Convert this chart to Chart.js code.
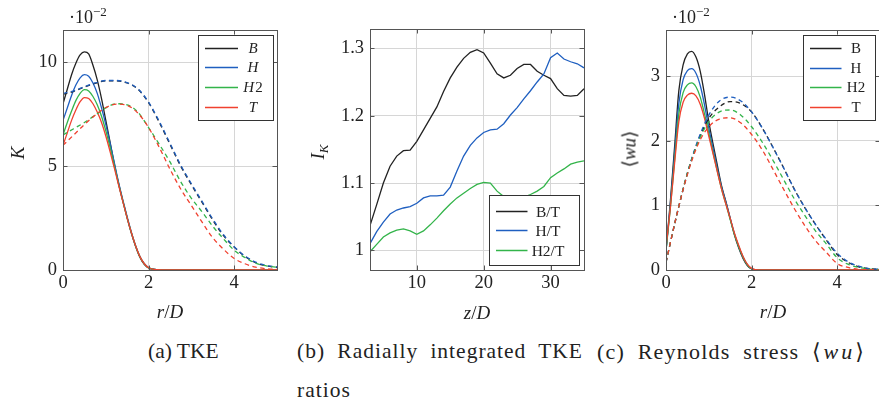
<!DOCTYPE html>
<html lang="en">
<head>
<meta charset="UTF-8">
<title>TKE, integrated TKE ratios and Reynolds stress</title>
<script src="https://cdn.jsdelivr.net/npm/chart.js"></script>
<style>
  body {
    margin: 0;
    background: #fff;
    width: 879px;
    height: 403px;
    overflow: hidden;
    position: relative;
    font-family: 'Liberation Serif', 'DejaVu Serif', serif;
    color: #222;
  }
  canvas { position: absolute; top: 0; }
  .lbl { position: absolute; white-space: nowrap; font-size: 19px; line-height: 1; }
  .ytitle { transform: translate(-50%, -50%) rotate(-90deg); }
  .xtitle { transform: translate(-50%, -50%); }
  .exp { position: absolute; font-size: 18px; line-height: 1; white-space: nowrap; }
  .exp sup { font-size: 13px; vertical-align: 7px; line-height: 0; }
  .cap { position: absolute; font-size: 21.5px; line-height: 1; white-space: nowrap; transform: translateY(-50%); }
  .just { text-align: justify; text-align-last: justify; white-space: normal; letter-spacing: 1px; }
  .wu { letter-spacing: 3px; }
</style>
</head>
<body>

<canvas id="chartA" width="290" height="330" style="left:0"></canvas>
<canvas id="chartB" width="300" height="330" style="left:290px"></canvas>
<canvas id="chartC" width="290" height="330" style="left:590px"></canvas>

<!-- axis titles -->
<div class="lbl ytitle" style="left:17px; top:153px"><i>K</i></div>
<div class="lbl ytitle" style="left:319px; top:152px"><i>I</i><sub style="font-size:13px"><i>K</i></sub></div>
<div class="lbl ytitle" style="left:629px; top:149px">⟨<i>wu</i>⟩</div>

<div class="lbl xtitle" style="left:170px; top:311px"><i>r</i>/<i>D</i></div>
<div class="lbl xtitle" style="left:477px; top:312px"><i>z</i>/<i>D</i></div>
<div class="lbl xtitle" style="left:773px; top:311px"><i>r</i>/<i>D</i></div>

<div class="exp" style="left:69px; top:8px">·10<sup>−2</sup></div>
<div class="exp" style="left:672px; top:8px">·10<sup>−2</sup></div>

<!-- captions -->
<div class="cap" style="left:148px; top:352px">(a) TKE</div>
<div class="cap just" style="left:297px; top:352px; width:286px">(b) Radially integrated TKE</div>
<div class="cap" style="left:297px; top:391px; letter-spacing:1px">ratios</div>
<div class="cap" style="left:597px; top:352px; font-size:22px; letter-spacing:1.2px; word-spacing:6px">(c) Reynolds stress <span class="wu">⟨<i>wu</i>⟩</span></div>

<script>
  // ---- data ----
  const seriesNames = ['B', 'H', 'H2', 'T'];
  const ratioNames = ['B/T', 'H/T', 'H2/T'];
  const colors = ['#222222', '#1f5fc0', '#33b44a', '#f0412f'];

  // radial positions r/D
  const rSolid = [0, 0.1, 0.2, 0.3, 0.4, 0.5, 0.6, 0.7, 0.8, 0.9, 1.0, 1.1, 1.2, 1.3, 1.4, 1.5, 1.6, 1.7, 1.8, 1.9, 2.0, 2.1, 2.2, 2.5, 3, 3.5, 4, 4.5, 5];
  const rDash = [0, 0.25, 0.5, 0.75, 1, 1.25, 1.5, 1.75, 2, 2.25, 2.5, 2.75, 3, 3.25, 3.5, 3.75, 4, 4.25, 4.5, 4.75, 5];

  // (a) TKE K, in units of 1e-2
  const kSolidB  = [8.0, 8.7, 9.4, 9.95, 10.35, 10.5, 10.4, 9.85, 9.15, 8.25, 7.2, 6.15, 5.1, 4.15, 3.3, 2.5, 1.75, 1.12, 0.6, 0.27, 0.1, 0.04, 0.02, 0.005, 0, 0, 0, 0, 0];
  const kSolidH  = [7.2, 7.8, 8.4, 8.9, 9.25, 9.4, 9.32, 9.0, 8.5, 7.8, 7.0, 6.1, 5.15, 4.2, 3.35, 2.55, 1.8, 1.15, 0.64, 0.3, 0.11, 0.04, 0.02, 0.005, 0, 0, 0, 0, 0];
  const kSolidH2 = [6.5, 7.1, 7.65, 8.15, 8.5, 8.68, 8.62, 8.35, 7.95, 7.4, 6.7, 5.9, 5.0, 4.12, 3.3, 2.5, 1.78, 1.13, 0.62, 0.29, 0.1, 0.04, 0.02, 0.005, 0, 0, 0, 0, 0];
  const kSolidT  = [6.0, 6.6, 7.2, 7.7, 8.1, 8.3, 8.25, 8.0, 7.6, 7.1, 6.45, 5.7, 4.9, 4.08, 3.28, 2.5, 1.78, 1.14, 0.63, 0.3, 0.11, 0.04, 0.02, 0.005, 0, 0, 0, 0, 0];
  const kDashB   = [8.45, 8.6, 8.8, 8.98, 9.1, 9.1, 9.0, 8.7, 8.05, 7.1, 6.05, 5.0, 4.1, 3.25, 2.4, 1.65, 1.1, 0.65, 0.35, 0.2, 0.13];
  const kDashH   = [8.5, 8.62, 8.82, 9.0, 9.12, 9.12, 9.02, 8.72, 8.08, 7.15, 6.1, 5.05, 4.15, 3.3, 2.45, 1.7, 1.12, 0.68, 0.38, 0.22, 0.15];
  const kDashH2  = [6.5, 6.8, 7.1, 7.45, 7.8, 8.0, 7.95, 7.6, 6.85, 6.05, 5.2, 4.25, 3.45, 2.8, 2.1, 1.5, 0.95, 0.6, 0.33, 0.2, 0.13];
  const kDashT   = [6.0, 6.5, 7.0, 7.45, 7.82, 7.98, 7.92, 7.55, 6.85, 5.9, 4.85, 3.9, 3.1, 2.3, 1.55, 1.0, 0.55, 0.3, 0.14, 0.06, 0.03];

  // (b) radially integrated TKE ratios vs z/D
  const zD = [3, 4, 5, 6, 7, 8, 9, 10, 11, 12, 13, 14, 15, 16, 17, 18, 19, 20, 21, 22, 23, 24, 25, 26, 27, 28, 29, 30, 31, 32, 33, 34, 35];
  const ratioBT  = [1.037, 1.068, 1.10, 1.125, 1.14, 1.148, 1.149, 1.162, 1.179, 1.196, 1.213, 1.236, 1.256, 1.272, 1.285, 1.294, 1.298, 1.293, 1.278, 1.262, 1.256, 1.260, 1.270, 1.276, 1.276, 1.266, 1.260, 1.255, 1.240, 1.230, 1.229, 1.230, 1.240];
  const ratioHT  = [1.010, 1.028, 1.042, 1.054, 1.060, 1.063, 1.065, 1.070, 1.078, 1.081, 1.081, 1.082, 1.094, 1.118, 1.140, 1.156, 1.167, 1.175, 1.179, 1.180, 1.188, 1.201, 1.212, 1.225, 1.237, 1.250, 1.262, 1.286, 1.293, 1.284, 1.280, 1.277, 1.271];
  const ratioH2T = [0.998, 1.009, 1.020, 1.026, 1.030, 1.032, 1.029, 1.024, 1.029, 1.038, 1.048, 1.059, 1.069, 1.078, 1.085, 1.092, 1.098, 1.101, 1.100, 1.088, 1.080, 1.077, 1.077, 1.079, 1.083, 1.088, 1.095, 1.108, 1.115, 1.121, 1.128, 1.131, 1.133];

  // (c) Reynolds stress <wu>, in units of 1e-2
  const wuSolidB  = [0.3, 1.05, 1.9, 2.78, 3.18, 3.35, 3.39, 3.3, 3.08, 2.72, 2.3, 1.95, 1.62, 1.3, 1.06, 0.8, 0.54, 0.34, 0.18, 0.07, 0.015, 0.003, 0, 0, 0, 0, 0, 0, 0];
  const wuSolidH  = [0.3, 1.0, 1.8, 2.58, 2.95, 3.09, 3.12, 3.05, 2.86, 2.56, 2.2, 1.88, 1.57, 1.28, 1.05, 0.8, 0.56, 0.36, 0.2, 0.08, 0.02, 0.005, 0, 0, 0, 0, 0, 0, 0];
  const wuSolidH2 = [0.3, 0.95, 1.7, 2.42, 2.75, 2.87, 2.9, 2.84, 2.68, 2.42, 2.12, 1.82, 1.53, 1.25, 1.02, 0.78, 0.55, 0.36, 0.2, 0.08, 0.02, 0.005, 0, 0, 0, 0, 0, 0, 0];
  const wuSolidT  = [0.35, 0.95, 1.65, 2.3, 2.6, 2.71, 2.74, 2.7, 2.57, 2.35, 2.07, 1.8, 1.52, 1.25, 1.02, 0.8, 0.57, 0.38, 0.21, 0.09, 0.025, 0.005, 0, 0, 0, 0, 0, 0, 0];
  const wuDashB   = [0.12, 0.85, 1.5, 2.0, 2.35, 2.53, 2.61, 2.58, 2.45, 2.2, 1.9, 1.58, 1.25, 0.96, 0.7, 0.46, 0.24, 0.12, 0.05, 0.02, 0.01];
  const wuDashH   = [0.12, 0.85, 1.5, 2.02, 2.4, 2.62, 2.68, 2.62, 2.45, 2.2, 1.9, 1.58, 1.25, 0.96, 0.7, 0.47, 0.26, 0.13, 0.06, 0.02, 0.01];
  const wuDashH2  = [0.12, 0.85, 1.5, 1.98, 2.3, 2.45, 2.48, 2.4, 2.22, 1.98, 1.7, 1.4, 1.1, 0.84, 0.6, 0.4, 0.19, 0.09, 0.04, 0.015, 0.005];
  const wuDashT   = [0.12, 0.85, 1.48, 1.95, 2.22, 2.34, 2.36, 2.28, 2.1, 1.86, 1.56, 1.25, 0.95, 0.68, 0.45, 0.27, 0.1, 0.04, 0.01, 0.005, 0];

  // tick labels
  const rTicks = [0, 2, 4];
  const kTicks = [0, 5, 10];
  const zTicks = [10, 20, 30];
  const ratioTicks = [1, 1.1, 1.2, 1.3];
  const wuTicks = [0, 1, 2, 3];

  // ---- helpers ----
  const FONT = "'Liberation Serif', 'DejaVu Serif', serif";
  const pts = (xs, ys) => xs.map((x, i) => ({ x: x, y: ys[i] }));

  function line(label, xs, ys, color, dashed, smooth) {
    return {
      label: label,
      data: pts(xs, ys),
      borderColor: color,
      borderWidth: 1.3,
      borderDash: dashed ? [4.5, 3.5] : [],
      isDashed: dashed,
      pointRadius: 0,
      fill: false,
      tension: smooth ? 0.4 : 0,
      cubicInterpolationMode: smooth ? 'monotone' : 'default'
    };
  }

  // box round the plot with small inner ticks (pgfplots style)
  const frame = {
    id: 'frame',
    afterDatasetsDraw(chart) {
      const { ctx, chartArea: a, scales } = chart;
      ctx.save();
      ctx.strokeStyle = '#555';
      ctx.lineWidth = 1;
      ctx.beginPath();
      scales.x.ticks.forEach(t => {
        const x = Math.round(scales.x.getPixelForValue(t.value)) + 0.5;
        ctx.moveTo(x, a.bottom); ctx.lineTo(x, a.bottom - 4.5);
        ctx.moveTo(x, a.top); ctx.lineTo(x, a.top + 4.5);
      });
      scales.y.ticks.forEach(t => {
        const y = Math.round(scales.y.getPixelForValue(t.value)) + 0.5;
        ctx.moveTo(a.left, y); ctx.lineTo(a.left + 4.5, y);
        ctx.moveTo(a.right, y); ctx.lineTo(a.right - 4.5, y);
      });
      ctx.stroke();
      ctx.strokeRect(Math.round(a.left) + 0.5, Math.round(a.top) + 0.5,
                     Math.round(a.right - a.left), Math.round(a.bottom - a.top));
      ctx.restore();
    }
  };

  // legend drawn inside the plot, with a border
  const legendBox = {
    id: 'legendBox',
    afterDatasetsDraw(chart, args, o) {
      const { ctx, chartArea: a } = chart;
      const x0 = Math.round(a.right - o.right - o.w);
      const y0 = Math.round(o.top != null ? a.top + o.top : a.bottom - o.bottom - o.h);
      ctx.save();
      ctx.fillStyle = '#fff';
      ctx.fillRect(x0, y0, o.w, o.h);
      ctx.strokeStyle = '#333';
      ctx.lineWidth = 1;
      ctx.strokeRect(x0 + 0.5, y0 + 0.5, o.w, o.h);
      const items = chart.data.datasets.filter(d => !d.isDashed);
      items.forEach((d, i) => {
        const y = Math.round(y0 + o.row0 + i * o.gap) + 0.5;
        ctx.strokeStyle = d.borderColor;
        ctx.lineWidth = 1.5;
        ctx.beginPath();
        ctx.moveTo(x0 + o.l0, y);
        ctx.lineTo(x0 + o.l1, y);
        ctx.stroke();
        ctx.fillStyle = '#222';
        ctx.textBaseline = 'middle';
        if (o.math) {
          // letters italic, digits upright
          const parts = d.label.match(/[A-Za-z]+|[^A-Za-z]+/g);
          const fonts = parts.map(p => (/[A-Za-z]/.test(p) ? 'italic ' : '') + o.size + 'px ' + FONT);
          let total = 0;
          parts.forEach((p, k) => { ctx.font = fonts[k]; total += ctx.measureText(p).width + (k ? 1 : 0); });
          let x = x0 + o.tx - total / 2;
          ctx.textAlign = 'left';
          parts.forEach((p, k) => { ctx.font = fonts[k]; ctx.fillText(p, x, y + 1); x += ctx.measureText(p).width + 1; });
        } else {
          ctx.font = o.size + 'px ' + FONT;
          ctx.textAlign = 'center';
          ctx.fillText(d.label, x0 + o.tx, y + 1);
        }
      });
      ctx.restore();
    }
  };

  function axis(min, max, ticks, isY, size) {
    return {
      type: 'linear',
      min: min,
      max: max,
      afterBuildTicks: s => { s.ticks = ticks.map(v => ({ value: v })); },
      afterFit: s => { if (isY) s.width = size; else s.height = size; },
      grid: { color: '#d6d6d6', lineWidth: 1, drawTicks: false },
      border: { display: false },
      ticks: {
        autoSkip: false,
        maxRotation: 0,
        padding: isY ? 6 : 2,
        color: '#222',
        font: { family: FONT, size: 18.5 },
        callback: v => String(v)
      }
    };
  }

  function makeChart(id, datasets, xAx, yAx, padding, legend) {
    datasets.forEach((d, i) => { d.order = datasets.length - i; });
    return new Chart(document.getElementById(id), {
      type: 'line',
      data: { datasets: datasets },
      options: {
        responsive: false,
        animation: false,
        events: [],
        layout: { padding: padding },
        scales: { x: xAx, y: yAx },
        plugins: {
          legend: { display: false },
          tooltip: { enabled: false },
          legendBox: legend
        }
      },
      plugins: [frame, legendBox]
    });
  }

  // (a) TKE
  const kSolid = [kSolidB, kSolidH, kSolidH2, kSolidT];
  const kDash = [kDashB, kDashH, kDashH2, kDashT];
  makeChart('chartA',
    seriesNames.map((n, i) => line(n, rSolid, kSolid[i], colors[i], false, true))
      .concat(seriesNames.map((n, i) => line(n, rDash, kDash[i], colors[i], true, true))),
    axis(0, 5, rTicks, false, 60),
    axis(0, 11.55, kTicks, true, 63),
    { left: 0, top: 30, right: 13, bottom: 0 },
    { top: 5, right: 4, w: 75, h: 85, l0: 7, l1: 40, tx: 55, row0: 12.5, gap: 19.8, size: 15, math: true }
  );

  // (b) ratios
  const ratios = [ratioBT, ratioHT, ratioH2T];
  makeChart('chartB',
    ratioNames.map((n, i) => line(n, zD, ratios[i], colors[i], false, false)),
    axis(3, 35, zTicks, false, 60),
    axis(0.971, 1.3286, ratioTicks, true, 80),
    { left: 0, top: 29, right: 6, bottom: 0 },
    { bottom: 5, right: 5, w: 90, h: 70, l0: 7, l1: 38.5, tx: 59, row0: 15.7, gap: 19.7, size: 15.5, math: false }
  );

  // (c) Reynolds stress
  const wuSolid = [wuSolidB, wuSolidH, wuSolidH2, wuSolidT];
  const wuDash = [wuDashB, wuDashH, wuDashH2, wuDashT];
  makeChart('chartC',
    seriesNames.map((n, i) => line(n, rSolid, wuSolid[i], colors[i], false, true))
      .concat(seriesNames.map((n, i) => line(n, rDash, wuDash[i], colors[i], true, true))),
    axis(0, 5, rTicks, false, 60),
    axis(0, 3.72, wuTicks, true, 76),
    { left: 0, top: 30, right: 0, bottom: 0 },
    { top: 5, right: 5, w: 72, h: 85, l0: 7, l1: 38.5, tx: 53, row0: 13, gap: 19.7, size: 15, math: false }
  );
</script>
</body>
</html>
